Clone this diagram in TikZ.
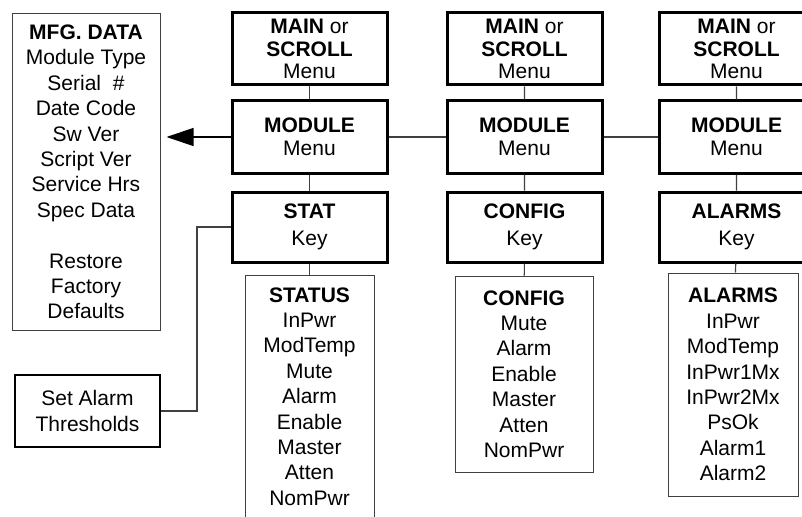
\documentclass[tikz,border=0pt]{standalone}
\usepackage{fontspec}
\setmainfont{Liberation Sans}
\usetikzlibrary{arrows.meta}

\begin{document}
\begin{tikzpicture}[x=1pt, y=-1pt,
        txt/.style={font=\fontsize{21}{25.4}\selectfont, align=center, inner sep=0pt},
        menubox/.style={txt, draw, line width=3pt, minimum width=155pt, minimum height=72pt,
                        font=\fontsize{21}{22.5}\selectfont},
        keybox/.style={menubox, minimum height=70pt, font=\fontsize{21}{27}\selectfont},
        listbox/.style={txt, draw=black!75, line width=1pt},
        link/.style={draw=black!75, line width=1.2pt}]
        \useasboundingbox (0,0) rectangle (802,516);
        \clip (0,0) rectangle (802,516);

        % Manufacturing data
        \node[listbox, minimum width=148pt, minimum height=316pt] (mfg) at (86,172)
            {\textbf{MFG. DATA}\\Module Type\\Serial~~\#\\Date Code\\Sw Ver\\Script Ver\\Service Hrs\\Spec Data\\[25.4pt]Restore\\Factory\\Defaults};
        \node[txt, draw, line width=2pt, minimum width=145pt, minimum height=72pt] (thresh) at (87.5,411)
            {Set Alarm\\Thresholds};

        % STAT column
        \node[menubox] (main1) at (309.5,49) {\textbf{MAIN} or\\\textbf{SCROLL}\\Menu};
        \node[menubox] (module1) at (309.5,137) {\textbf{MODULE}\\Menu};
        \node[keybox] (stat) at (309.5,227) {\textbf{STAT}\\Key};
        \node[listbox, minimum width=129pt, minimum height=243pt] (status) at (309.5,396.5)
            {\textbf{STATUS}\\InPwr\\ModTemp\\Mute\\Alarm\\Enable\\Master\\Atten\\NomPwr};

        % CONFIG column
        \node[menubox] (main2) at (524.5,49) {\textbf{MAIN} or\\\textbf{SCROLL}\\Menu};
        \node[menubox] (module2) at (524.5,137) {\textbf{MODULE}\\Menu};
        \node[keybox] (cfgkey) at (524.5,227) {\textbf{CONFIG}\\Key};
        \node[listbox, minimum width=138pt, minimum height=196pt] (config) at (524,374)
            {\textbf{CONFIG}\\Mute\\Alarm\\Enable\\Master\\Atten\\NomPwr};

        % ALARMS column
        \node[menubox] (main3) at (736.5,49) {\textbf{MAIN} or\\\textbf{SCROLL}\\Menu};
        \node[menubox] (module3) at (736.5,137) {\textbf{MODULE}\\Menu};
        \node[keybox] (almkey) at (736.5,227) {\textbf{ALARMS}\\Key};
        \node[listbox, minimum width=130pt, minimum height=223pt] (alarms) at (733,384.5)
            {\textbf{ALARMS}\\InPwr\\ModTemp\\InPwr1Mx\\InPwr2Mx\\PsOk\\Alarm1\\Alarm2};

        % Links down each column
        \draw[link] (main1) -- (module1) (module1) -- (stat) (stat) -- (status);
        \draw[link] (main2) -- (module2) (module2) -- (cfgkey) (cfgkey) -- (config);
        \draw[link] (main3) -- (module3) (module3) -- (almkey) (almkey) -- (alarms);

        % Links across
        \draw[link] (module1) -- (module2);
        \draw[link] (module2) -- (module3);
        \draw[link, draw=black, -{Triangle[length=27pt, width=18pt]}, shorten >=6pt]
            (module1.west) -- (mfg.east |- module1.west);

        % Thresholds
        \coordinate (elbow) at (197,0);
        \draw[link] (thresh.east) -| (elbow |- stat.west) -- (stat.west);
\end{tikzpicture}
\end{document}
